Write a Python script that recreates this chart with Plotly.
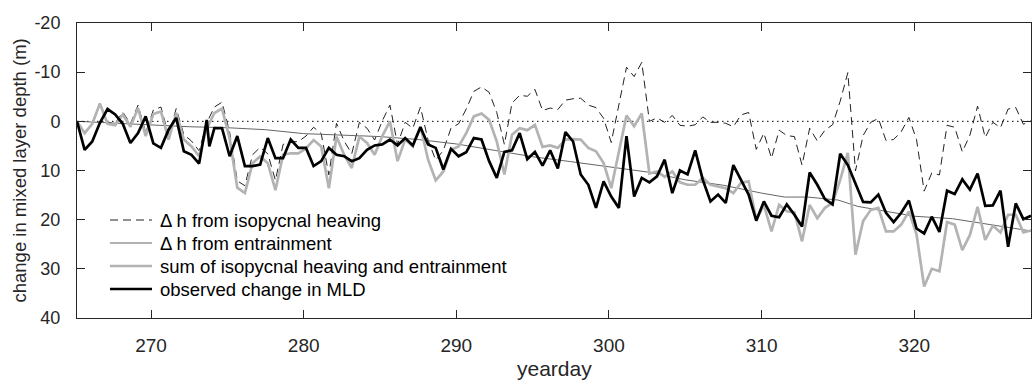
import numpy as np
import plotly.graph_objects as go

# ---- data ----
day_start = 265.15
day_step = 0.5

heaving = [0, 2.3, 0.3, -3.8, 0.2, 0.4, -1.9, 0.5, -3.3, 2.3,
           -2.3, -2.9, 2.8, -2.6, 2.7, 4.0, 6.0, 0.3, -2.9, -3.9,
           2.2, 12.1, 13.1, 6.8, 5.3, 6.6, 12.0, 4.7, 4.2, 4.1,
           3.0, 1.2, 2.5, 10.9, 0.4, 4.0, 6.6, 0.2, 1.4, 3.8,
           -0.1, -3.3, 4.7, 0.2, 1.4, -2.9, 3.8, 7.9, 5.9, 1.4,
           0.5, -2.5, -6.1, -7.0, -5.9, -1.8, 4.7, -3.7, -5.3, -5.1,
           -6.5, -2.2, -2.7, -2.4, -4.3, -4.6, -4.7, -3.3, -2.8, -0.6,
           4.3, -3.2, -11.0, -9.1, -12.0, 0.0, -0.7, 0.2, -1.2, 0.8,
           1.0, 0.7, -0.9, 0.2, 0.2, 0.4, 1.1, -1.3, -1.8, 5.7,
           2.4, 7.5, 1.8, 2.9, 3.1, 8.9, 1.4, 4.0, 1.8, 0.7,
           -4.1, -9.9, 10.1, 2.9, 0.2, -0.6, 3.9, 3.7, 2.1, -0.8,
           3.7, 14.2, 10.5, 10.9, 0.8, 1.2, 6.2, 2.8, -3.1, 3.3,
           0.2, 1.3, -2.5, -2.8, 0.6, -0.1]

ent_days = [265.15, 267.0, 270.0, 272.5, 275.0, 277.5, 280.0, 282.5, 285.0,
            287.5, 290.0, 292.5, 295.0, 297.5, 300.0, 302.5, 305.0, 307.5,
            310.0, 311.5, 313.0, 315.0, 316.3, 318.0, 320.0, 322.5, 325.0, 327.65]
entrainment = [0, 0.3, 0.8, 1.1, 1.3, 1.7, 2.5, 2.8, 3.1,
               3.7, 4.6, 5.9, 7.2, 8.2, 9.3, 10.3, 11.9, 13.0,
               14.6, 15.4, 15.4, 16.0, 17.3, 18.2, 19.3, 19.8, 21.0, 22.3]

total = [0, 2.4, 0.5, -3.6, 0.5, 0.8, -1.4, 1.1, -2.7, 3.0,
         -1.5, -2.0, 3.7, -1.7, 3.7, 5.1, 7.1, 1.5, -1.7, -2.6,
         3.5, 13.5, 14.6, 8.5, 7.1, 8.5, 14.0, 6.8, 6.5, 6.5,
         5.5, 3.8, 5.1, 13.6, 3.1, 6.8, 9.5, 3.1, 4.4, 6.8,
         3.0, 0.0, 8.1, 3.7, 5.1, 1.0, 7.8, 12.0, 10.2, 5.8,
         5.1, 2.4, -1.0, -1.6, -0.3, 4.1, 10.8, 2.7, 1.4, 1.8,
         0.7, 5.2, 4.9, 5.4, 3.7, 3.6, 3.7, 5.4, 6.1, 8.5,
         13.6, 6.4, -1.2, 1.0, -1.6, 10.6, 10.2, 11.3, 10.2, 12.4,
         12.9, 12.9, 11.5, 12.9, 13.2, 13.6, 14.6, 12.5, 12.2, 20.0,
         17.0, 22.4, 17.0, 18.3, 18.5, 24.4, 17.0, 19.7, 17.6, 16.6,
         11.9, 6.4, 27.1, 20.3, 18.0, 17.6, 22.4, 22.4, 21.0, 18.3,
         23.0, 33.6, 30.0, 30.5, 20.5, 21.0, 26.2, 23.1, 17.4, 24.1,
         21.2, 22.6, 19.0, 19.0, 22.6, 22.2]

observed = [0, 5.8, 4.1, 0.3, -2.5, -1.4, 0.5, 4.4, 2.4, -1.0,
            4.5, 5.4, 1.7, -0.7, 6.1, 6.8, 8.6, -0.3, 5.1, 1.4,
            1.4, 7.1, 3.0, 9.1, 9.1, 8.8, 3.4, 7.5, 7.5, 3.7,
            5.4, 5.4, 9.1, 8.1, 5.4, 6.8, 7.1, 8.1, 7.5, 5.8,
            4.9, 4.7, 3.7, 4.9, 3.4, 4.9, 1.2, 4.7, 5.4, 9.8,
            5.6, 7.1, 6.3, 3.4, 3.7, 8.1, 11.5, 6.2, 5.9, 2.4,
            7.7, 6.2, 9.0, 5.9, 9.6, 2.2, 4.1, 10.8, 12.9, 17.6,
            12.2, 15.3, 17.6, 3.0, 15.3, 11.5, 12.4, 11.2, 7.8, 14.6,
            10.0, 10.8, 5.9, 11.9, 16.3, 14.9, 16.6, 8.9, 11.9, 14.9,
            20.2, 16.3, 19.2, 19.5, 16.9, 19.0, 21.4, 10.4, 12.9, 15.8,
            16.9, 6.6, 8.9, 12.7, 16.4, 16.5, 14.9, 18.6, 20.5, 18.6,
            16.1, 21.8, 22.8, 19.4, 22.5, 14.1, 14.8, 11.8, 13.9, 10.6,
            17.2, 17.1, 14.1, 25.5, 16.7, 19.9, 19.2]
obs_extra_day = 273.82  # one extra sample in the observed record

x_ticks = [270, 280, 290, 300, 310, 320]
y_ticks = [-20, -10, 0, 10, 20, 30, 40]
y_ticklabels = ["-20", "-10", "0", "10", "20", "30", "40"]

labels = ["\u0394 h from isopycnal heaving",
          "\u0394 h from entrainment",
          "sum of isopycnal heaving and entrainment",
          "observed change in MLD"]

# ---- styles ----
AX = "#262626"
FONT = "Liberation Sans, Arial, Helvetica, sans-serif"
styles = [dict(color="#222222", width=1, dash="8px,5px"),
          dict(color="#666666", width=1),
          dict(color="#b3b3b3", width=2.7),
          dict(color="#000000", width=2.7)]

# ---- build ----
days = list(day_start + day_step * np.arange(len(total)))
obs_days = days[:18] + [obs_extra_day] + days[18:]

fig = go.Figure()
fig.add_trace(go.Scatter(x=days, y=heaving, mode="lines", name=labels[0], line=styles[0]))
fig.add_trace(go.Scatter(x=ent_days, y=entrainment, mode="lines", name=labels[1], line=styles[1]))
fig.add_trace(go.Scatter(x=days, y=total, mode="lines", name=labels[2], line=styles[2]))
fig.add_trace(go.Scatter(x=obs_days, y=observed, mode="lines", name=labels[3], line=styles[3]))

fig.add_shape(type="line", xref="paper", yref="y", x0=0, x1=1, y0=0, y1=0,
              line=dict(color="#000000", width=1, dash="1.5px,3.5px"), layer="below")

# legend (drawn in paper coordinates, plot area 954 x 295 px)
PW, PH = 954.0, 295.0
annotations = []
for k, (lab, st) in enumerate(zip(labels, styles)):
    ypx = 98 - 23 * k          # px above the bottom of the plot area
    yp = ypx / PH
    fig.add_shape(type="line", xref="paper", yref="paper",
                  x0=33 / PW, x1=75 / PW, y0=yp, y1=yp, line=st)
    annotations.append(dict(text=lab, xref="paper", yref="paper",
                            x=81 / PW, y=yp, xanchor="left", yanchor="middle",
                            showarrow=False, font=dict(size=18.5, color="#000000")))

annotations += [
    dict(text="yearday", xref="paper", yref="paper", x=0.5, y=0,
         xanchor="center", yanchor="middle", yshift=-50, showarrow=False,
         font=dict(size=21, color=AX)),
    dict(text="change in mixed layer depth (m)", xref="paper", yref="paper",
         x=0, y=0.5, xanchor="center", yanchor="middle", xshift=-58,
         textangle=-90, showarrow=False, font=dict(size=18.5, color=AX)),
]

fig.update_layout(
    width=1036, height=383,
    margin=dict(l=77, r=5, t=23, b=65),
    paper_bgcolor="white", plot_bgcolor="white",
    font=dict(family=FONT, size=18, color=AX),
    showlegend=False,
    xaxis=dict(range=[265.15, 327.65], tickvals=x_ticks,
               ticks="inside", ticklen=8, tickcolor=AX, tickwidth=1,
               showline=True, linecolor=AX, linewidth=1, mirror="ticks",
               showgrid=False, zeroline=False, ticklabelstandoff=10,
               tickfont=dict(size=19, color=AX)),
    yaxis=dict(range=[40, -20], tickvals=y_ticks, ticktext=y_ticklabels,
               ticks="inside", ticklen=8, tickcolor=AX, tickwidth=1,
               showline=True, linecolor=AX, linewidth=1, mirror="ticks",
               showgrid=False, zeroline=False, ticklabelstandoff=12,
               tickfont=dict(size=18, color=AX)),
    annotations=annotations,
)

fig.write_html("out.html")
